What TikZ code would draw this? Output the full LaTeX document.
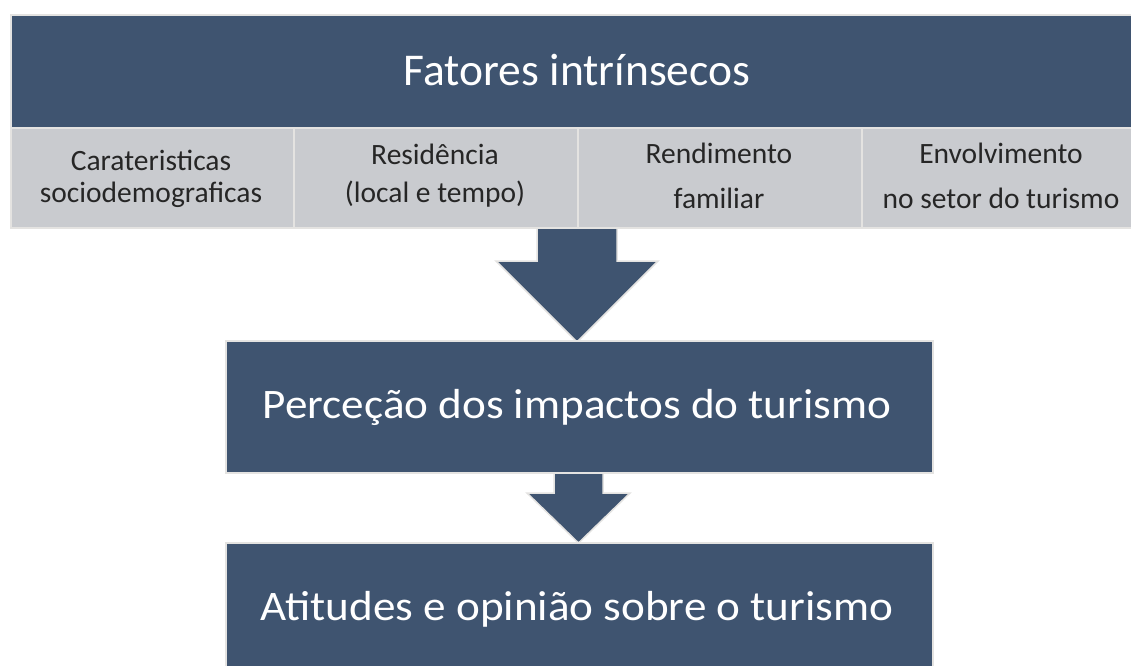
\documentclass[tikz,border=0pt]{standalone}
\usepackage{fontspec}
\setmainfont{Carlito}
\definecolor{navy}{HTML}{3F5470}
\definecolor{cellgray}{HTML}{C9CBCF}
\definecolor{rim}{HTML}{E4E3E1}
\definecolor{txtdark}{HTML}{262626}
\tikzset{
  darkbox/.style={draw=rim, line width=1.5pt, fill=navy, inner sep=0pt},
  cellbox/.style={draw=rim, line width=1.5pt, fill=cellgray, inner sep=0pt},
  blockarrow/.style={draw=rim, line width=1.5pt, fill=navy, line join=miter},
  bigtxt/.style={text=white, anchor=base, inner sep=0pt, font=\fontsize{45.5}{50}\selectfont},
  midtxt/.style={text=white, anchor=base, inner sep=0pt, xscale=1.075, font=\fontsize{42}{46}\selectfont},
  celltxt/.style={text=txtdark, anchor=base, inner sep=0pt, font=\fontsize{29.5}{34}\selectfont}
}
\begin{document}
\begin{tikzpicture}[x=1pt, y=-1pt]
\useasboundingbox (0,0) rectangle (1131,665);
\fill[white] (0,0) rectangle (1131,665);
% block arrows
\draw[blockarrow] (537,227) -- (617,227) -- (617,261) -- (658,261) -- (577,342) -- (496,261) -- (537,261) -- cycle;
\draw[blockarrow] (554,472) -- (603,472) -- (603,493) -- (630,493) -- (578.5,543) -- (527,493) -- (554,493) -- cycle;
% top banner
\node[darkbox, minimum width=1125pt, minimum height=113pt, anchor=north west] (top) at (10,14) {};
\node[bigtxt] (toptxt) at (577,85) {Fatores intrínsecos};
% cells
\node[cellbox, minimum width=283pt, minimum height=100pt, anchor=north west] (c1) at (10,127) {};
\node[cellbox, minimum width=284pt, minimum height=100pt, anchor=north west] (c2) at (293,127) {};
\node[cellbox, minimum width=284pt, minimum height=100pt, anchor=north west] (c3) at (577,127) {};
\node[cellbox, minimum width=274pt, minimum height=100pt, anchor=north west] (c4) at (861,127) {};
\node[celltxt] (c1a) at (151,170) {Carateristicas};
\node[celltxt] (c1b) at (151,202) {sociodemograficas};
\node[celltxt] (c2a) at (435,164) {Residência};
\node[celltxt] (c2b) at (435,202) {(local e tempo)};
\node[celltxt] (c3a) at (719,163) {Rendimento};
\node[celltxt] (c3b) at (719,208) {familiar};
\node[celltxt] (c4a) at (1001,163) {Envolvimento};
\node[celltxt] (c4b) at (1001,208) {no setor do turismo};
% middle and bottom boxes
\node[darkbox, minimum width=707pt, minimum height=132pt, anchor=north west] (perc) at (225,340) {};
\node[midtxt] (perctxt) at (577,418) {Perceção dos impactos do turismo};
\node[darkbox, minimum width=707pt, minimum height=130pt, anchor=north west] (atit) at (225,542) {};
\node[midtxt] (atittxt) at (577,620) {Atitudes e opinião sobre o turismo};
\end{tikzpicture}
\end{document}
